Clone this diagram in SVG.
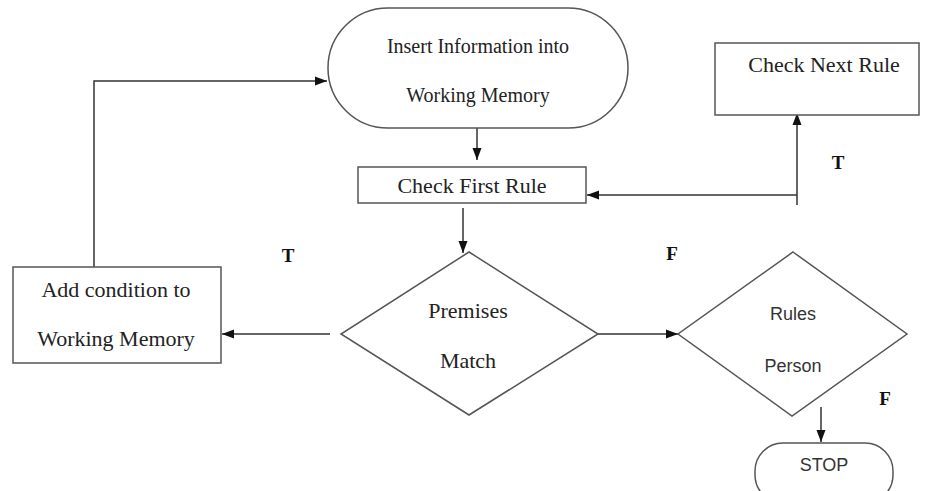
<svg xmlns="http://www.w3.org/2000/svg" width="926" height="491" viewBox="0 0 926 491">
<style>
.shape{fill:#fff;stroke:#555;stroke-width:1.5}
.conn{fill:none;stroke:#333;stroke-width:1.5}
.serif{font-family:"Liberation Serif","Times New Roman",serif;fill:#222;text-anchor:middle}
.sans{font-family:"Liberation Sans",Arial,sans-serif;fill:#333;text-anchor:middle}
.lbl{font-family:"Liberation Serif","Times New Roman",serif;font-weight:bold;font-size:19px;fill:#111;text-anchor:middle}
</style>
<defs>
<marker id="ah" viewBox="0 0 12 10" refX="12" refY="5" markerWidth="12" markerHeight="10" markerUnits="userSpaceOnUse" orient="auto">
<path d="M0,0.5 L12,5 L0,9.5 Z" fill="#111"/>
</marker>
</defs>
<rect width="926" height="491" fill="#fff"/>
<g id="connectors">
<path class="conn" d="M94,267 V81 H327" marker-end="url(#ah)"/>
<path class="conn" d="M477,128 V160" marker-end="url(#ah)"/>
<path class="conn" d="M797,205 V113" marker-end="url(#ah)"/>
<path class="conn" d="M797,195 H587" marker-end="url(#ah)"/>
<path class="conn" d="M463,208 V253" marker-end="url(#ah)"/>
<path class="conn" d="M330,334 H222" marker-end="url(#ah)"/>
<path class="conn" d="M598,334 H678" marker-end="url(#ah)"/>
<path class="conn" d="M821,407 V442" marker-end="url(#ah)"/>
</g>
<g id="insert">
<rect class="shape" x="328" y="8" width="300" height="120" rx="60"/>
<text class="serif" x="478" y="53" font-size="20">Insert Information into</text>
<text class="serif" x="478" y="102" font-size="20">Working Memory</text>
</g>
<g id="checkFirst">
<rect class="shape" x="358" y="167" width="228" height="36"/>
<text class="serif" x="472" y="193" font-size="22">Check First Rule</text>
</g>
<g id="checkNext">
<rect class="shape" x="715" y="43" width="204" height="72"/>
<text class="serif" x="824" y="72" font-size="22">Check Next Rule</text>
</g>
<g id="addCondition">
<rect class="shape" x="13" y="267" width="208" height="96"/>
<text class="serif" x="116" y="297" font-size="22">Add condition to</text>
<text class="serif" x="116" y="346" font-size="22">Working Memory</text>
</g>
<g id="premises">
<polygon class="shape" points="469,252 598,334 469,415 341,334"/>
<text class="serif" x="468" y="318" font-size="22">Premises</text>
<text class="serif" x="468" y="368" font-size="22">Match</text>
</g>
<g id="rules">
<polygon class="shape" points="793,252 907,334 792,416 678,334"/>
<text class="sans" x="793" y="320" font-size="18">Rules</text>
<text class="sans" x="793" y="372" font-size="18">Person</text>
</g>
<g id="stop">
<rect class="shape" x="755" y="443" width="138" height="60" rx="28"/>
<text class="sans" x="824" y="471" font-size="18">STOP</text>
</g>
<g id="labels">
<text class="lbl" x="838" y="169">T</text>
<text class="lbl" x="288" y="262">T</text>
<text class="lbl" x="672" y="260">F</text>
<text class="lbl" x="885" y="405">F</text>
</g>
</svg>
